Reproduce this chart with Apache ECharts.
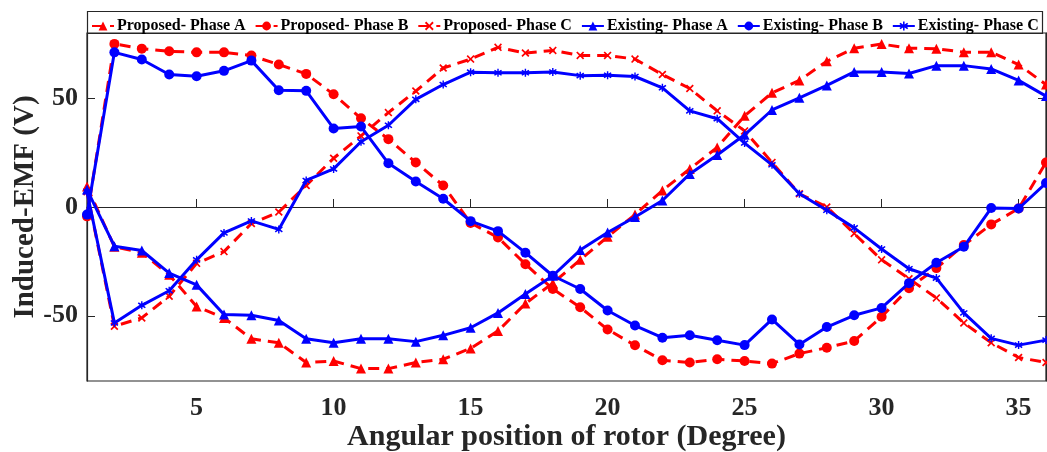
<!DOCTYPE html>
<html>
<head>
<meta charset="utf-8">
<script src="https://cdn.jsdelivr.net/npm/echarts@6/dist/echarts.min.js"></script>
<style>
html,body{margin:0;padding:0;background:#fff;}
#chart{width:1047px;height:452px;}
</style>
</head>
<body>
<div id="chart"></div>
<script>
const angles = [1,2,3,4,5,6,7,8,9,10,11,12,13,14,15,16,17,18,19,20,21,22,23,24,25,26,27,28,29,30,31,32,33,34,35,36];
const xTicks = [5,10,15,20,25,30,35];
const yTicks = [-50,0,50];

const proposedA = [9.4,-18.3,-21,-31.2,-45.7,-51,-60.6,-62.4,-71.5,-70.8,-74.3,-74.3,-71.5,-70,-65,-57,-44.4,-35,-24.3,-13.7,-3.5,7.6,17.5,27.4,41.9,52.5,58.2,67,73,74.9,73,72.8,71.2,71.2,65.5,56.3];
const proposedB = [-4.3,75,72.8,71.6,71.1,71.1,69.6,65.5,61.2,51.8,40.8,31.2,20.5,9.9,-7.3,-14,-26.3,-37.7,-46.1,-56.3,-63.6,-70.5,-71.5,-70,-70.8,-72,-67.4,-64.7,-61.6,-50.5,-37.3,-28.1,-17.5,-8,-0.7,20.5];
const proposedC = [7,-54.8,-51,-41,-25.9,-20.5,-7.6,-2.3,9.9,22.4,32.7,43.4,53.3,63.9,68,73.4,70.8,72,69.7,69.7,68,60.9,54.5,44.2,35,20.5,6.1,0,-12.2,-24.3,-33,-41.8,-53.3,-62.4,-69.2,-71.5];
const existingA = [8,-18,-20,-30.4,-35.8,-49.4,-49.8,-52.2,-60.6,-62.4,-60.6,-60.6,-61.9,-59,-55.5,-48.7,-40,-31.6,-19.8,-11.7,-4.6,3,15.2,23.9,33.2,44.6,50.2,55.9,62.1,62.1,61.4,65,65,63.5,58.2,51];
const existingB = [-3.5,71.1,67.8,60.9,60.1,62.6,67.3,53.7,53.4,36.1,37,20.1,11.7,3.8,-6.5,-11.1,-21,-31.6,-37.7,-47.6,-54.5,-60.1,-59,-61.3,-63.5,-51.7,-63.2,-55.2,-49.8,-46.4,-35,-25.6,-18.3,-0.5,-0.7,11];
const existingC = [7,-53.3,-45.2,-38.5,-24.3,-11.9,-6.4,-10.3,12.2,17.5,30,37.6,49.5,56.3,62,61.7,61.7,62.1,60.4,60.6,60,54.8,44.2,40.6,29.4,19.4,6.1,-1.5,-9.6,-19.3,-28.4,-32.7,-48.7,-60.4,-63.5,-61.2];

const names = ['Proposed- Phase A','Proposed- Phase B','Proposed- Phase C','Existing- Phase A','Existing- Phase B','Existing- Phase C'];
const values = [proposedA, proposedB, proposedC, existingA, existingB, existingC];

const xSymbol = 'path://M0,1.5 L1.5,0 L5,3.5 L8.5,0 L10,1.5 L6.5,5 L10,8.5 L8.5,10 L5,6.5 L1.5,10 L0,8.5 L3.5,5 Z';
const starSymbol = 'path://M4.2,0 L5.8,0 L5.8,3.2 L8.5,1.2 L9.5,2.6 L6.8,5 L9.5,7.4 L8.5,8.8 L5.8,6.8 L5.8,10 L4.2,10 L4.2,6.8 L1.5,8.8 L0.5,7.4 L3.2,5 L0.5,2.6 L1.5,1.2 L4.2,3.2 Z';
const symbols = ['triangle','circle',xSymbol,'triangle','circle',starSymbol];
const colors = ['#ff0000','#ff0000','#ff0000','#0000ff','#0000ff','#0000ff'];
const FONT = '"Liberation Serif","Times New Roman",serif';

const series = names.map((n,i)=>({
  name: n,
  type: 'line',
  data: angles.map((a,k)=>[a, values[i][k]]),
  symbol: symbols[i],
  symbolSize: i%3===2 ? 8 : 10,
  showSymbol: true,
  z: i<3 ? 2 : 3,
  lineStyle: {color: colors[i], width: 3, type: i<3 ? [11,7] : 'solid'},
  itemStyle: {color: colors[i]},
  emphasis: {disabled: true},
  animation: false
}));

const chart = echarts.init(document.getElementById('chart'), null, {renderer:'canvas'});
chart.setOption({
  backgroundColor: '#ffffff',
  animation: false,
  grid: {left: 87, right: 1, top: 33, bottom: 71, show: true, borderColor: '#262626', borderWidth: 1.2, containLabel: false, outerBoundsMode: 'none'},
  legend: {
    left: 86, top: 13, itemWidth: 22, itemHeight: 11, itemGap: 9,
    textStyle: {fontFamily: FONT, fontWeight: 'bold', fontSize: 16, color: '#000', padding: [0,0,0,-2]},
    data: names
  },
  graphic: [{type:'rect', shape:{x:87.5, y:11.5, width:955, height:22}, style:{fill:'none', stroke:'#262626', lineWidth:1.2}, z:-1}],
  xAxis: [{
    type: 'value', min: 1, max: 36,
    name: 'Angular position of rotor (Degree)', nameLocation: 'middle', nameGap: 41, nameMoveOverlap: false,
    nameTextStyle: {fontFamily: FONT, fontWeight: 'bold', fontSize: 30, color: '#262626'},
    axisLine: {show: true, lineStyle: {color: '#262626', width: 1.2}},
    axisTick: {show: true, inside: true, length: 8, customValues: xTicks, lineStyle: {color: '#262626'}},
    axisLabel: {customValues: xTicks, fontFamily: FONT, fontWeight: 'bold', fontSize: 26, color: '#262626', margin: 14},
    splitLine: {show: false}
  }],
  yAxis: [{
    type: 'value', min: -80, max: 80,
    name: 'Induced-EMF (V)', nameLocation: 'middle', nameGap: 47, nameMoveOverlap: false,
    nameTextStyle: {fontFamily: FONT, fontWeight: 'bold', fontSize: 29, color: '#262626'},
    axisLine: {show: true, lineStyle: {color: '#262626', width: 1.2}},
    axisTick: {show: true, inside: true, length: 8, customValues: yTicks, lineStyle: {color: '#262626'}},
    axisLabel: {customValues: yTicks, fontFamily: FONT, fontWeight: 'bold', fontSize: 26, color: '#262626', margin: 9},
    splitLine: {show: false}
  },{
    type: 'value', min: -80, max: 80, position: 'right',
    axisLine: {show: true, lineStyle: {color: '#262626', width: 1.2}},
    axisTick: {show: true, inside: true, length: 8, customValues: yTicks, lineStyle: {color: '#262626'}},
    axisLabel: {show: false},
    splitLine: {show: false}
  }],
  series: series
});
</script>
</body>
</html>
